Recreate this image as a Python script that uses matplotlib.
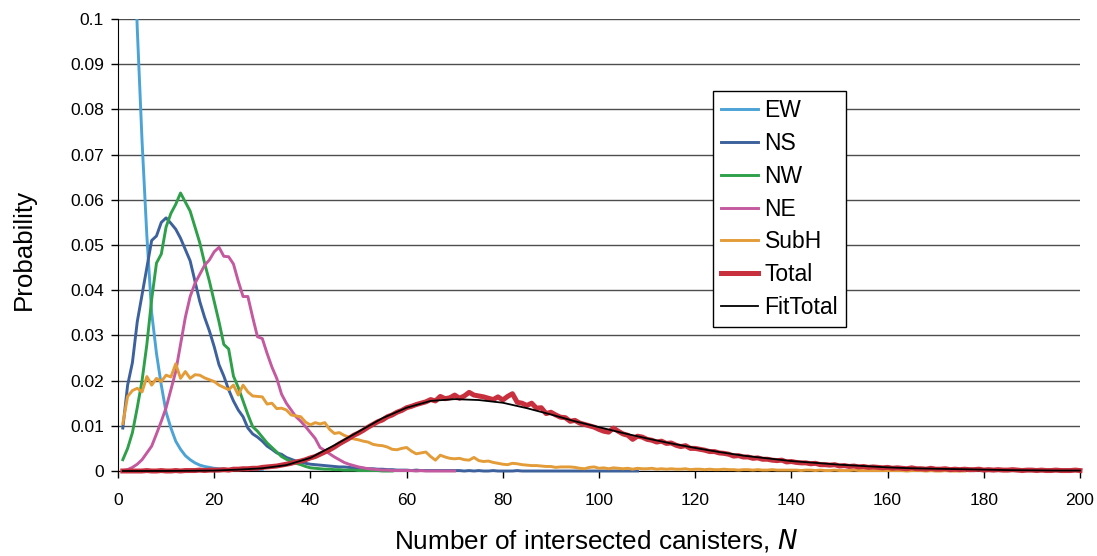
import numpy as np
import matplotlib
matplotlib.use("Agg")
import matplotlib.pyplot as plt

plt.rcParams['font.family'] = ['Liberation Sans', 'DejaVu Sans']

# ---------------- data ----------------
ew = [0.22, 0.17, 0.13, 0.098, 0.073, 0.052, 0.035, 0.026, 0.019, 0.013,
      0.0095, 0.0066, 0.0048, 0.0034, 0.0025, 0.0018, 0.0013, 0.0010, 0.0008, 0.0006,
      0.0005, 0.0004, 0.0003, 0.0003, 0.0002, 0.0002, 0.0001, 0.0001, 0.0001, 0.0001]

ns = [0.0095, 0.019, 0.024, 0.033, 0.039, 0.045, 0.051, 0.052, 0.055, 0.056,
      0.0548, 0.0535, 0.0515, 0.049, 0.0465, 0.042, 0.0375, 0.034, 0.031, 0.0275,
      0.0235, 0.021, 0.018, 0.0155, 0.0135, 0.012, 0.0095, 0.0082, 0.0075, 0.0066,
      0.0055, 0.0048, 0.0040, 0.0037, 0.0030, 0.0026, 0.0022, 0.0020, 0.0017, 0.0015,
      0.0014, 0.0013, 0.0012, 0.0011, 0.0010, 0.0009, 0.0009, 0.0008, 0.0007, 0.0007,
      0.0006, 0.0005, 0.0005, 0.0004, 0.0004, 0.0003, 0.0003, 0.0002, 0.0002, 0.0002,
      0.0001, 0.0002, 0.0001, 0.0001, 0.0001, 0.0001, 0.0001, 0.0001, 0.0001, 0.0001,
      0.0001, 0.0000, 0.0001, 0.0000, 0.0001, 0.0000, 0.0000, 0.0001, 0.0000, 0.0000,
      0.0000, 0.0000, 0.0001, 0.0000, 0.0000, 0.0000, 0.0000, 0.0000, 0.0000, 0.0000,
      0.0000, 0.0000, 0.0000, 0.0000, 0.0000, 0.0000, 0.0000, 0.0000, 0.0000, 0.0000,
      0.0000, 0.0000, 0.0000, 0.0000, 0.0000, 0.0000, 0.0000, 0.0000]

nw = [0.0025, 0.005, 0.0085, 0.014, 0.020, 0.028, 0.038, 0.046, 0.048, 0.054,
      0.057, 0.059, 0.0615, 0.0595, 0.0575, 0.054, 0.0505, 0.046, 0.042, 0.0375,
      0.033, 0.028, 0.027, 0.021, 0.0185, 0.0155, 0.0125, 0.0098, 0.0088, 0.0075,
      0.0062, 0.0052, 0.0042, 0.0032, 0.0026, 0.0021, 0.0017, 0.0014, 0.0010, 0.0007,
      0.0006, 0.0005, 0.0004, 0.0004, 0.0003, 0.0003, 0.0002, 0.0002, 0.0002, 0.0001,
      0.0001, 0.0001, 0.0001, 0.0001, 0.0000, 0.0000, 0.0000]

ne = [0.0001, 0.0003, 0.0008, 0.0015, 0.0025, 0.0040, 0.0055, 0.0082, 0.011, 0.014,
      0.018, 0.022, 0.028, 0.034, 0.0386, 0.0415, 0.0435, 0.0455, 0.0467, 0.0485,
      0.0495, 0.0475, 0.0474, 0.0458, 0.042, 0.0386, 0.0386, 0.034, 0.0297, 0.0293,
      0.026, 0.023, 0.0205, 0.0170, 0.0150, 0.0135, 0.0120, 0.0110, 0.0098, 0.0085,
      0.0072, 0.0052, 0.0045, 0.0038, 0.0031, 0.0025, 0.0019, 0.0015, 0.0012, 0.0009,
      0.0007, 0.0005, 0.0004, 0.0003, 0.0002, 0.0002, 0.0001, 0.0001, 0.0001, 0.0001,
      0.0001, 0.0000, 0.0001, 0.0000, 0.0000, 0.0000, 0.0000, 0.0000, 0.0000, 0.0000]

subh = [0.0105, 0.0165, 0.0178, 0.0183, 0.0175, 0.0209, 0.0190, 0.0205, 0.0198, 0.0212,
        0.0208, 0.0237, 0.0205, 0.0220, 0.0205, 0.0213, 0.0212, 0.0206, 0.0202, 0.0198,
        0.0190, 0.0185, 0.0180, 0.0190, 0.0168, 0.0190, 0.0175, 0.0166, 0.0165, 0.0164,
        0.0148, 0.0150, 0.0138, 0.0139, 0.0135, 0.0124, 0.0122, 0.0120, 0.0108, 0.0102,
        0.0107, 0.0104, 0.0107, 0.0092, 0.0083, 0.0085, 0.0079, 0.0075, 0.0071, 0.0069,
        0.0066, 0.0064, 0.0059, 0.0057, 0.0056, 0.0053, 0.0048, 0.0047, 0.0050, 0.0052,
        0.0044, 0.0038, 0.0040, 0.0042, 0.0032, 0.0024, 0.0035, 0.0031, 0.0028, 0.0027,
        0.0028, 0.0025, 0.0024, 0.0030, 0.0023, 0.0021, 0.0022, 0.0019, 0.0017, 0.0015,
        0.0014, 0.0017, 0.0016, 0.0014, 0.0013, 0.0012, 0.0012, 0.0011, 0.0010, 0.0010,
        0.0008, 0.0009, 0.0009, 0.0009, 0.0008, 0.0006, 0.0005, 0.0008, 0.0009, 0.0006,
        0.0007, 0.0005, 0.0007, 0.0006, 0.0005, 0.0006, 0.0004, 0.0006, 0.0005, 0.0005,
        0.0006, 0.0004, 0.0005, 0.0004, 0.0005, 0.0004, 0.0004, 0.0005, 0.0003, 0.0004,
        0.0004, 0.0003, 0.0004, 0.0003, 0.0003, 0.0004, 0.0003, 0.0003, 0.0002, 0.0003,
        0.0003, 0.0002, 0.0003, 0.0002, 0.0002, 0.0003, 0.0002, 0.0002, 0.0002, 0.0002,
        0.0002, 0.0001, 0.0002, 0.0002, 0.0001, 0.0002, 0.0001, 0.0001, 0.0002, 0.0001,
        0.0001, 0.0001, 0.0002, 0.0001, 0.0001, 0.0001, 0.0001, 0.0001, 0.0001, 0.0001,
        0.0001, 0.0001, 0.0001, 0.0000, 0.0001, 0.0001, 0.0001, 0.0000, 0.0001, 0.0000,
        0.0000, 0.0001, 0.0000, 0.0000, 0.0000, 0.0000]

total = [0.0000, 0.0000, 0.0000, 0.0000, 0.0000, 0.0001, 0.0000, 0.0000, 0.0001, 0.0000,
         0.0000, 0.0001, 0.0000, 0.0001, 0.0001, 0.0001, 0.0002, 0.0001, 0.0002, 0.0002,
         0.0002, 0.0003, 0.0002, 0.0004, 0.0004, 0.0005, 0.0005, 0.0006, 0.0006, 0.0008,
         0.0009, 0.0010, 0.0011, 0.0013, 0.0015, 0.0017, 0.0020, 0.0022, 0.0025, 0.0029,
         0.0032, 0.0037, 0.0042, 0.0047, 0.0053, 0.0060, 0.0066, 0.0072, 0.0079, 0.0084,
         0.0090, 0.0097, 0.0103, 0.0109, 0.0113, 0.0120, 0.0124, 0.0130, 0.0134, 0.0140,
         0.0143, 0.0147, 0.0150, 0.0153, 0.0158, 0.0155, 0.0165, 0.0160, 0.0162, 0.0168,
         0.0161, 0.0166, 0.0174, 0.0168, 0.0166, 0.0164, 0.0161, 0.0158, 0.0164, 0.0157,
         0.0165, 0.0171, 0.0152, 0.0150, 0.0145, 0.0150, 0.0139, 0.0140, 0.0127, 0.0130,
         0.0124, 0.0119, 0.0118, 0.0110, 0.0112, 0.0106, 0.0103, 0.0100, 0.0097, 0.0092,
         0.0088, 0.0086, 0.0095, 0.0088, 0.0082, 0.0079, 0.0070, 0.0077, 0.0075, 0.0070,
         0.0068, 0.0064, 0.0066, 0.0061, 0.0062, 0.0057, 0.0054, 0.0056, 0.0050, 0.0050,
         0.0048, 0.0046, 0.0043, 0.0043, 0.0040, 0.0039, 0.0037, 0.0033, 0.0034, 0.0031,
         0.0031, 0.0028, 0.0029, 0.0026, 0.0026, 0.0024, 0.0023, 0.0024, 0.0020, 0.0021,
         0.0019, 0.0018, 0.0018, 0.0016, 0.0017, 0.0014, 0.0014, 0.0013, 0.0014, 0.0011,
         0.0012, 0.0010, 0.0011, 0.0009, 0.0010, 0.0008, 0.0009, 0.0008, 0.0007, 0.0008,
         0.0006, 0.0007, 0.0006, 0.0005, 0.0007, 0.0005, 0.0005, 0.0004, 0.0006, 0.0004,
         0.0004, 0.0005, 0.0003, 0.0004, 0.0003, 0.0004, 0.0003, 0.0003, 0.0004, 0.0002,
         0.0003, 0.0002, 0.0003, 0.0002, 0.0002, 0.0003, 0.0002, 0.0001, 0.0002, 0.0002,
         0.0001, 0.0002, 0.0001, 0.0001, 0.0002, 0.0001, 0.0001, 0.0001, 0.0002, 0.0001]

fit_n = [1, 5, 10, 15, 20, 25, 30, 35, 40, 45, 50, 55, 60, 65, 70, 75, 80, 85, 90, 95,
         100, 105, 110, 115, 120, 125, 130, 135, 140, 145, 150, 155, 160, 165, 170, 175,
         180, 185, 190, 195, 200]
fit_total = [0.0, 0.0, 0.00001, 0.00005, 0.0001, 0.0003, 0.0006, 0.0013, 0.0029, 0.0057,
             0.0087, 0.0117, 0.0140, 0.0155, 0.0159, 0.0157, 0.0151, 0.0139, 0.0125, 0.0110,
             0.0097, 0.0084, 0.0072, 0.0061, 0.0051, 0.0042, 0.0034, 0.0028, 0.0022, 0.0018,
             0.0014, 0.0011, 0.0008, 0.0006, 0.0005, 0.0004, 0.0003, 0.0002, 0.00015, 0.0001,
             0.0001]

labels = ["EW", "NS", "NW", "NE", "SubH", "Total", "FitTotal"]
colors = ["#4ba3d6", "#3d619c", "#2fa04a", "#c4599f", "#e39c38", "#c9303e", "#000000"]
x_ticks = list(range(0, 201, 20))
y_ticks = [0, 0.01, 0.02, 0.03, 0.04, 0.05, 0.06, 0.07, 0.08, 0.09, 0.1]
y_tick_labels = ["0", "0.01", "0.02", "0.03", "0.04", "0.05", "0.06", "0.07", "0.08", "0.09", "0.1"]

# ---------------- plot ----------------
fig = plt.figure(figsize=(10.97, 5.56), dpi=100)
ax = fig.add_axes([118/1097, 1 - 471/556, (1080-118)/1097, (471-19)/556])

series = [ew, ns, nw, ne, subh]
for i, s in enumerate(series):
    n = np.arange(1, len(s) + 1)
    ax.plot(n, s, color=colors[i], lw=2.1, label=labels[i], zorder=3 + i,
            clip_on=(i == 0), solid_joinstyle='round')
ax.plot(np.arange(1, len(total) + 1), total, color=colors[5], lw=3.6, label=labels[5],
        zorder=9, clip_on=False, solid_joinstyle='round')
ax.plot(fit_n, fit_total, color=colors[6], lw=1.3, label=labels[6], zorder=10, clip_on=False)

ax.set_xlim(0, 200)
ax.set_ylim(0, 0.1)
ax.set_xticks(x_ticks)
ax.set_xticklabels([str(v) for v in x_ticks], fontsize=12.5)
ax.set_yticks(y_ticks)
ax.set_yticklabels(y_tick_labels, fontsize=12.5)
ax.yaxis.grid(True, color="#4d4d4d", lw=1.0)
ax.set_axisbelow(True)
for sp in ["top", "right"]:
    ax.spines[sp].set_visible(False)
ax.spines["left"].set_color("black")
ax.spines["bottom"].set_color("black")
ax.tick_params(axis="both", direction="out", length=5, width=1, colors="black")
ax.tick_params(axis="x", pad=11)
ax.tick_params(axis="y", pad=5)

ax.set_ylabel("Probability", fontsize=18.6)
ax.yaxis.set_label_coords(-0.085, 0.49)
ax.set_xlabel("Number of intersected canisters, $\\it{N}$", fontsize=18.8)
ax.xaxis.set_label_coords(0.497, -0.125)
ax.xaxis.label.set_verticalalignment("top")

leg = ax.legend(loc="upper left", bbox_to_anchor=(713/1097, 1 - 91/556),
                bbox_transform=fig.transFigure, fontsize=16.5, frameon=True, fancybox=False,
                edgecolor="black", framealpha=1, handlelength=1.6, handletextpad=0.3,
                labelspacing=0.43, borderpad=0.35, borderaxespad=0)
leg.get_frame().set_linewidth(1.0)
leg.set_zorder(20)

fig.savefig("out.png", dpi=100)
